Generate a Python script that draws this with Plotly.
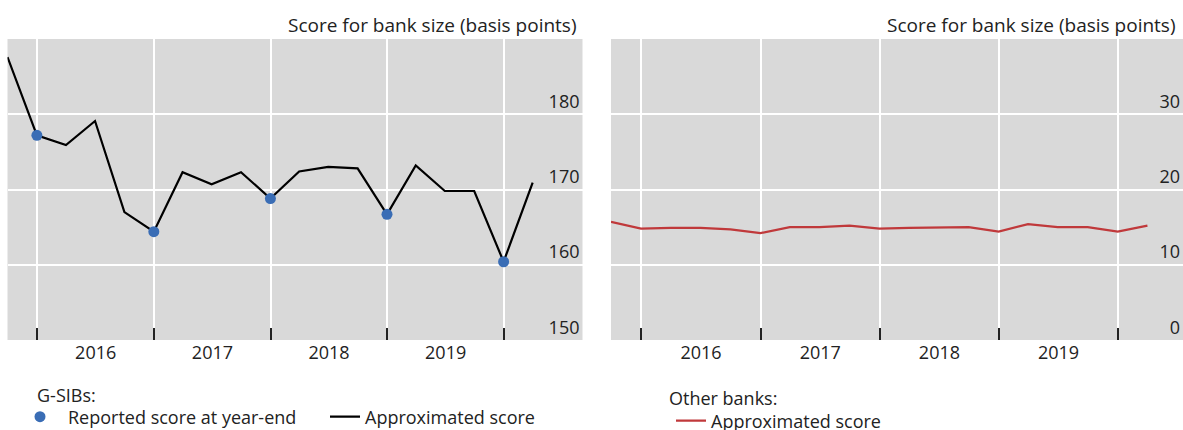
import plotly.graph_objects as go

quarters = ["2015-09-30", "2015-12-31", "2016-03-31", "2016-06-30", "2016-09-30",
            "2016-12-31", "2017-03-31", "2017-06-30", "2017-09-30", "2017-12-31",
            "2018-03-31", "2018-06-30", "2018-09-30", "2018-12-31", "2019-03-31",
            "2019-06-30", "2019-09-30", "2019-12-31", "2020-03-31"]
gsib_approx = [187.6, 177.2, 175.9, 179.1, 167.0, 164.4, 172.3, 170.7, 172.3, 168.8,
               172.4, 173.0, 172.8, 166.7, 173.2, 169.8, 169.8, 160.4, 170.9]
year_ends = ["2015-12-31", "2016-12-31", "2017-12-31", "2018-12-31", "2019-12-31"]
gsib_reported = [177.2, 164.4, 168.8, 166.7, 160.4]
other_approx = [15.7, 14.8, 14.9, 14.9, 14.7, 14.2, 15.0, 15.0, 15.2, 14.8,
                14.9, 14.9, 15.0, 14.4, 15.4, 15.0, 15.0, 14.4, 15.2]
left_ticks = [150, 160, 170, 180]
right_ticks = [0, 10, 20, 30]

FONT = "Open Sans"
TXT = "#222222"
BG = "#d9d9d9"

W, H = 1183, 430


def px(xw):
    return xw / W


def py(yw):
    return 1 - yw / H


fig = go.Figure()
fig.add_trace(go.Scatter(x=quarters, y=gsib_approx, mode="lines",
                         line=dict(color="black", width=2.2),
                         name="Approximated score", legend="legend2",
                         xaxis="x", yaxis="y"))
fig.add_trace(go.Scatter(x=year_ends, y=gsib_reported, mode="markers",
                         marker=dict(color="#3a6db5", size=11),
                         name="Reported score at year-end", legend="legend",
                         showlegend=True, xaxis="x", yaxis="y"))
fig.add_trace(go.Scatter(x=quarters, y=other_approx, mode="lines",
                         line=dict(color="#c0393b", width=2.2),
                         name="Approximated score", legend="legend3",
                         xaxis="x2", yaxis="y2"))


def xax(domain, rng):
    return dict(domain=domain, type="date", range=rng, dtick="M12",
                tick0="2016-01-01", ticklabelmode="period", tickformat="%Y",
                showgrid=True, gridcolor="white", gridwidth=1.5,
                ticks="inside", ticklen=12, tickcolor="#222", tickwidth=1.5,
                showline=False, zeroline=False,
                tickfont=dict(family=FONT, size=18, color=TXT))


def yax(domain, rng, ticks, anchor):
    return dict(domain=domain, range=rng, tickvals=ticks, side="right",
                anchor=anchor, ticklabelposition="inside top",
                showgrid=True, gridcolor="white", gridwidth=1.5,
                zeroline=False, showline=False, ticks="",
                tickfont=dict(family=FONT, size=18, color=TXT))


def leg(xw, yw, iw=30):
    return dict(orientation="h", x=px(xw), y=py(yw), xanchor="left", yanchor="middle",
                bgcolor="rgba(0,0,0,0)", itemwidth=iw, visible=True,
                font=dict(family=FONT, size=18, color=TXT))


ydom = [py(340), py(39)]
fig.update_layout(
    width=W, height=H,
    showlegend=True,
    margin=dict(l=0, r=0, t=0, b=0, autoexpand=False),
    paper_bgcolor="white", plot_bgcolor=BG,
    font=dict(family=FONT, size=18, color=TXT),
    xaxis=xax([px(7.5), px(582.5)], ["2015-09-30", "2020-09-03"]),
    yaxis=yax(ydom, [150, 190], left_ticks, "x"),
    xaxis2=xax([px(611), 1.0], ["2015-09-30", "2020-07-18"]),
    yaxis2=yax(ydom, [0, 40], right_ticks, "x2"),
    legend=leg(12, 417, iw=46),
    legend2=leg(325, 417),
    legend3=leg(671, 421),
    annotations=[
        dict(text="Score for bank size (basis points)", xref="paper", yref="paper",
             x=px(579), y=py(25), xanchor="right", yanchor="middle",
             showarrow=False, font=dict(family=FONT, size=19, color=TXT)),
        dict(text="Score for bank size (basis points)", xref="paper", yref="paper",
             x=px(1178), y=py(25), xanchor="right", yanchor="middle",
             showarrow=False, font=dict(family=FONT, size=19, color=TXT)),
        dict(text="G-SIBs:", xref="paper", yref="paper",
             x=px(35), y=py(395), xanchor="left", yanchor="middle",
             showarrow=False, font=dict(family=FONT, size=18, color=TXT)),
        dict(text="Other banks:", xref="paper", yref="paper",
             x=px(667), y=py(398), xanchor="left", yanchor="middle",
             showarrow=False, font=dict(family=FONT, size=18, color=TXT)),
    ],
)

fig.write_html("out.html",
               config={"displayModeBar": False},
               post_script="document.body.style.margin='0';"
                           "document.body.style.overflow='hidden';")
